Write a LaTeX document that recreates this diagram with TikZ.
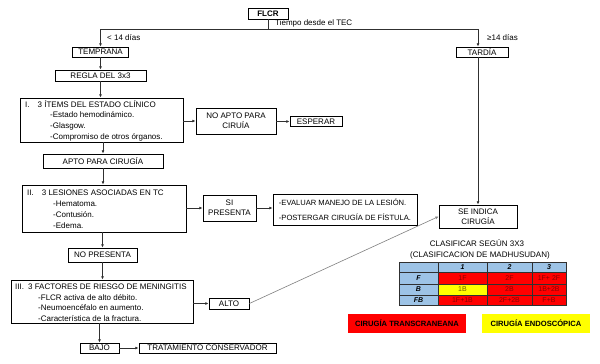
\documentclass[tikz,border=0pt]{standalone}
\usepackage{fontspec}
\setmainfont{Liberation Sans}
\usetikzlibrary{arrows.meta,calc}
\definecolor{tblue}{HTML}{9DC3E6}
\definecolor{tred}{HTML}{FF0000}
\definecolor{tyel}{HTML}{FFFF00}
\definecolor{dred}{HTML}{8A0000}
\definecolor{dyel}{HTML}{6A5C00}
\definecolor{lgray}{HTML}{303030}
\definecolor{mgray}{HTML}{808080}
\begin{document}
\begin{tikzpicture}[x=1pt,y=-1pt,
  box/.style={draw=black,line width=0.8pt,inner sep=0pt,align=center,font=\fontsize{8}{10}\selectfont},
  lbl/.style={inner sep=0pt,anchor=west,font=\fontsize{8}{9}\selectfont},
  arr/.style={-{Latex[length=3.2pt,width=2.8pt]},line width=0.7pt,draw=lgray},
  ln/.style={line width=0.7pt,draw=lgray},
  cell/.style={draw=lgray,line width=0.6pt,inner sep=0pt,font=\fontsize{7}{7}\selectfont},
  hcell/.style={cell,fill=tblue,font=\fontsize{7}{7}\selectfont\bfseries\itshape},
  rcell/.style={cell,fill=tred,text=dred},
  ycell/.style={cell,fill=tyel,text=dyel},
  legend/.style={inner sep=0pt,font=\fontsize{7.6}{9}\selectfont\bfseries},
]
\useasboundingbox[fill=white] (0,0) rectangle (600,364);

% top
\node[box,minimum width=40pt,minimum height=11pt,font=\fontsize{8}{9}\selectfont\bfseries] (flcr) at (268,13.5) {FLCR};
\coordinate (split) at (268,29);
\node[lbl] (tiempo) at (275,23) {Tiempo desde el TEC};

\node[box,minimum width=56pt,minimum height=10pt] (temprana) at (100.5,52) {TEMPRANA};
\node[lbl] (menor) at (107,38) {< 14 días};
\node[box,minimum width=52pt,minimum height=10pt] (tardia) at (482,52) {TARDÍA};
\node[lbl] (mayor) at (487,38) {≥14 días};

\node[box,minimum width=91pt,minimum height=11pt] (regla) at (100.5,75.5) {REGLA DEL 3x3};

% box I
\node[box,minimum width=163pt,minimum height=44pt] (boxI) at (101.5,120) {};
\node[lbl] (tIa) at (25,104) {I.\hspace{8pt}3 ÍTEMS DEL ESTADO CLÍNICO};
\node[lbl] (tIb) at (50,115) {-Estado hemodinámico.};
\node[lbl] (tIc) at (50,126) {-Glasgow.};
\node[lbl] (tId) at (50,137) {-Compromiso de otros órganos.};

\node[box,minimum width=80pt,minimum height=26pt] (noapto) at (236,121) {NO APTO PARA\\CIRUÍA};
\node[box,minimum width=52pt,minimum height=10pt] (esperar) at (316,121.5) {ESPERAR};

\node[box,minimum width=120pt,minimum height=14pt] (apto) at (103,161) {APTO PARA CIRUGÍA};

% box II
\node[box,minimum width=164pt,minimum height=47pt] (boxII) at (104,208.5) {};
\node[lbl] (tIIa) at (27,193) {II.\hspace{8pt}3 LESIONES ASOCIADAS EN TC};
\node[lbl] (tIIb) at (53,204) {-Hematoma.};
\node[lbl] (tIIc) at (53,215) {-Contusión.};
\node[lbl] (tIId) at (53,226) {-Edema.};

\node[box,minimum width=53pt,minimum height=26pt] (sipres) at (229.5,208) {SI\\PRESENTA};
\node[box,minimum width=144pt,minimum height=31pt,align=left,font=\fontsize{7.6}{15.5}\selectfont] (evaluar) at (345,209.5) {-EVALUAR MANEJO DE LA LESIÓN.\\-POSTERGAR CIRUGÍA DE FÍSTULA.};

\node[box,minimum width=69pt,minimum height=14pt] (nopres) at (102.5,255) {NO PRESENTA};

% box III
\node[box,minimum width=182pt,minimum height=43pt] (boxIII) at (102,301.5) {};
\node[lbl] (tIIIa) at (15,287) {III.\hspace{4pt}3 FACTORES DE RIESGO DE MENINGITIS};
\node[lbl] (tIIIb) at (38,297.5) {-FLCR activa de alto débito.};
\node[lbl] (tIIIc) at (38,308) {-Neumoencéfalo en aumento.};
\node[lbl] (tIIId) at (38,318.5) {-Característica de la fractura.};

\node[box,minimum width=40pt,minimum height=11pt] (alto) at (229,303.5) {ALTO};
\node[box,minimum width=39pt,minimum height=10pt] (bajo) at (99.5,348) {BAJO};
\node[box,minimum width=137pt,minimum height=10pt] (trat) at (207.5,348) {TRATAMIENTO CONSERVADOR};

\node[box,minimum width=78pt,minimum height=23pt] (seindica) at (478,216.5) {SE INDICA\\CIRUGÍA};

% connectors
\draw[ln] (flcr.south) -- (split);
\draw[arr] (split) -| (temprana.north);
\draw[arr] (split) -| (seindica.north |- tardia.north);
\draw[arr] (temprana.south) -- (regla.north);
\draw[arr] (regla.south) -- (boxI.north -| regla.south);
\draw[arr] (boxI.east |- noapto.west) -- (noapto.west);
\draw[arr] (noapto.east |- esperar.west) -- (esperar.west);
\draw[arr] (boxI.south -| apto.north) -- (apto.north);
\draw[arr] (apto.south) -- (boxII.north -| apto.south);
\draw[arr] (boxII.east |- sipres.west) -- (sipres.west);
\draw[arr] (sipres.east) -- (evaluar.west |- sipres.east);
\draw[arr] (boxII.south -| nopres.north) -- (nopres.north);
\draw[arr] (nopres.south) -- (boxIII.north -| nopres.south);
\draw[arr] (boxIII.east |- alto.west) -- (alto.west);
\draw[arr] (boxIII.south -| bajo.north) -- (bajo.north);
\draw[arr] (bajo.east) -- (trat.west);
\draw[arr] (seindica.north |- tardia.south) -- (seindica.north);
\draw[-{Latex[length=3.2pt,width=2.8pt]},line width=0.6pt,draw=mgray] (alto.east) -- (seindica.west);

% classification
\node[inner sep=0pt,font=\fontsize{8}{9}\selectfont] (clas1) at (477,243.5) {CLASIFICAR SEGÚN 3X3};
\node[inner sep=0pt,font=\fontsize{8}{9}\selectfont] (clas2) at (480,255.5) {(CLASIFICACION DE MADHUSUDAN)};

% table
\node[hcell,minimum width=39pt,minimum height=10pt] (h0) at (418.5,267) {};
\node[hcell,minimum width=49pt,minimum height=10pt] (h1) at (462.5,267) {1};
\node[hcell,minimum width=45pt,minimum height=10pt] (h2) at (509.5,267) {2};
\node[hcell,minimum width=34pt,minimum height=10pt] (h3) at (549,267) {3};

\node[hcell,minimum width=39pt,minimum height=12pt] (rF) at (418.5,278) {F};
\node[rcell,minimum width=49pt,minimum height=12pt] (c11) at (462.5,278) {1F};
\node[rcell,minimum width=45pt,minimum height=12pt] (c12) at (509.5,278) {2F};
\node[rcell,minimum width=34pt,minimum height=12pt] (c13) at (549,278) {1F+ 2F};

\node[hcell,minimum width=39pt,minimum height=11pt] (rB) at (418.5,289.5) {B};
\node[ycell,minimum width=49pt,minimum height=11pt] (c21) at (462.5,289.5) {1B};
\node[rcell,minimum width=45pt,minimum height=11pt] (c22) at (509.5,289.5) {2B};
\node[rcell,minimum width=34pt,minimum height=11pt] (c23) at (549,289.5) {1B+2B};

\node[hcell,minimum width=39pt,minimum height=10pt] (rFB) at (418.5,300) {FB};
\node[rcell,minimum width=49pt,minimum height=10pt] (c31) at (462.5,300) {1F+1B};
\node[rcell,minimum width=45pt,minimum height=10pt] (c32) at (509.5,300) {2F+2B};
\node[rcell,minimum width=34pt,minimum height=10pt] (c33) at (549,300) {F+B};

% legend
\node[legend,fill=tred,minimum width=118pt,minimum height=19pt] (legT) at (407,323.5) {CIRUGÍA TRANSCRANEANA};
\node[legend,fill=tyel,minimum width=108pt,minimum height=19pt] (legE) at (536,323.5) {CIRUGÍA ENDOSCÓPICA};
\end{tikzpicture}
\end{document}
